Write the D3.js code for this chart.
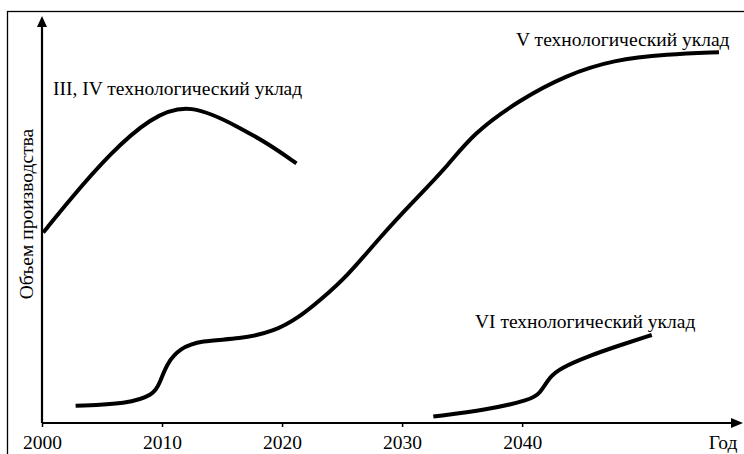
<!DOCTYPE html>
<html>
<head>
<meta charset="utf-8">
<script src="https://cdn.jsdelivr.net/npm/d3@7"></script>
<style>
  body { margin: 0; background: #fff; }
</style>
</head>
<body>
<div id="chart"></div>
<script>
// tick years on the x axis
const tickYears = [2000, 2010, 2020, 2030, 2040];
const xAxisTitle = "Год";
const yAxisTitle = "Объем производства";

// III, IV wave
const wave34Years = [2000.1, 2002.3, 2005.7, 2009.0, 2012.3, 2016.8, 2019.0, 2021.2];
const wave34Values = [47.6, 55.8, 67.5, 76.3, 80.3, 73.3, 69.5, 64.9];

// V wave
const wave5Years = [2002.8, 2007.1, 2009.3, 2009.8, 2010.4, 2011.5, 2013.2, 2016.5, 2019.3, 2021.5, 2023.2,
    2025.4, 2028.2, 2030.9, 2033.7, 2035.9, 2039.8, 2043.7, 2047.6, 2052.1, 2056.4];
const wave5Values = [4.3, 4.8, 7.0, 9.9, 14.9, 18.7, 20.6, 21.0, 22.8, 26.6, 30.8,
    36.6, 46.6, 55.3, 63.9, 72.4, 80.8, 87.0, 90.8, 92.2, 92.7];

// VI wave
const wave6Years = [2032.6, 2037.1, 2040.7, 2041.5, 2042.3, 2043.2, 2045.4, 2048.2, 2050.8];
const wave6Values = [1.6, 3.3, 5.8, 7.4, 11.6, 13.7, 16.6, 19.5, 22.0];

const waveNames = ["III, IV технологический уклад", "V технологический уклад", "VI технологический уклад"];

const serif = "'Times New Roman', 'Liberation Serif', 'DejaVu Serif', serif";
const fontSize = "19.5px";

window.onload = () => {
    const w = 744;
    const h = 454;
    const svg = d3.select("#chart").append("svg").attr("width", w).attr("height", h);

    const x = d3.scaleLinear().domain([2000, 2058.4]).range([42, 743]);
    const y = d3.scaleLinear().domain([0, 100]).range([423, 23]);

    // outer frame
    svg.append("rect")
        .attr("x", 7.5).attr("y", 11.5)
        .attr("width", 800).attr("height", 500)
        .attr("fill", "none").attr("stroke", "#000").attr("stroke-width", 1.3);

    // x axis
    const xAxis = svg.append("g")
        .attr("transform", `translate(0,${y(0)})`)
        .call(d3.axisBottom(x).tickValues(tickYears).tickFormat(d3.format("d")).tickSize(4).tickSizeOuter(0));
    xAxis.attr("font-family", serif).attr("font-size", 19.5);
    xAxis.select(".domain").remove();
    xAxis.selectAll(".tick line").attr("stroke", "#000").attr("stroke-width", 1.5);
    xAxis.selectAll(".tick text")
        .attr("y", 26)
        .attr("dy", 0)
        .attr("fill", "#000")
        .style("font-family", serif)
        .style("font-size", fontSize);

    svg.append("line")
        .attr("x1", x(2000)).attr("x2", x.range()[1] - 8)
        .attr("y1", y(0)).attr("y2", y(0))
        .attr("stroke", "#000").attr("stroke-width", 2.2);
    svg.append("path")
        .attr("d", `M${x.range()[1]},${y(0)} l-12,-5 l0,10 z`)
        .attr("fill", "#000");
    svg.append("text")
        .text(xAxisTitle)
        .attr("x", 723).attr("y", 449)
        .attr("text-anchor", "middle")
        .style("font-family", serif)
        .style("font-size", fontSize);

    // y axis
    svg.append("line")
        .attr("x1", x(2000)).attr("x2", x(2000))
        .attr("y1", y(0)).attr("y2", 24)
        .attr("stroke", "#000").attr("stroke-width", 2.2);
    svg.append("path")
        .attr("d", `M${x(2000)},16 l-5,11 l10,0 z`)
        .attr("fill", "#000");
    svg.append("text")
        .text(yAxisTitle)
        .attr("transform", "translate(33,214) rotate(-90)")
        .attr("text-anchor", "middle")
        .style("font-family", serif)
        .style("font-size", fontSize);

    // curves
    const line = d3.line()
        .x(d => x(d[0]))
        .y(d => y(d[1]))
        .curve(d3.curveBasis);

    const waves = [
        d3.zip(wave34Years, wave34Values),
        d3.zip(wave5Years, wave5Values),
        d3.zip(wave6Years, wave6Values)
    ];

    svg.selectAll("path.wave")
        .data(waves)
        .enter()
        .append("path")
        .attr("class", "wave")
        .attr("d", line)
        .attr("fill", "none")
        .attr("stroke", "#000")
        .attr("stroke-width", 4);

    // wave labels
    const labelPos = [[53, 95], [516, 46], [475, 328]];
    svg.selectAll("text.wave-label")
        .data(waveNames)
        .enter()
        .append("text")
        .attr("class", "wave-label")
        .text(d => d)
        .attr("x", (d, i) => labelPos[i][0])
        .attr("y", (d, i) => labelPos[i][1])
        .style("font-family", serif)
        .style("font-size", fontSize);
};
</script>
</body>
</html>
